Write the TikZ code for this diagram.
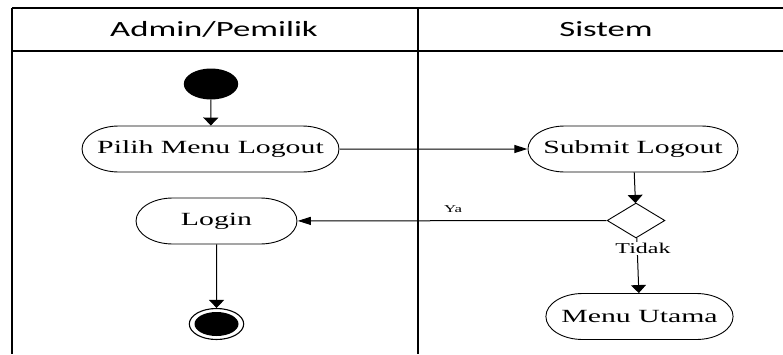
\documentclass[tikz,border=0pt]{standalone}
\usepackage{fontspec}
\setmainfont{Liberation Serif}
\newfontfamily\lanefont{Carlito}
\usetikzlibrary{shapes.misc,shapes.geometric,arrows.meta}

\tikzset{
  laneh/.style={line width=1.3pt},
  lanev/.style={line width=2pt},
  lanetitle/.style={anchor=base, inner sep=0pt, font=\lanefont\fontsize{21.7}{26}\selectfont},
  activity/.style={rounded rectangle, draw, line width=0.9pt, inner sep=0pt,
    minimum height=46pt, font=\fontsize{18.6}{22}\selectfont},
  decision/.style={diamond, draw, line width=0.9pt, inner sep=0pt,
    minimum width=36.25pt, minimum height=35pt},
  initial/.style={ellipse, fill=black, inner sep=0pt, minimum width=34pt, minimum height=31pt},
  finalring/.style={ellipse, draw, line width=1.1pt, inner sep=0pt, minimum width=34pt, minimum height=31pt},
  finaldot/.style={ellipse, fill=black, inner sep=0pt, minimum width=27.5pt, minimum height=24pt},
  vflow/.style={line width=1pt, -{Triangle[length=8pt,width=15pt]}},
  hflow/.style={line width=1pt, -{Triangle[length=13pt,width=8pt]}},
  guard/.style={inner sep=1pt}
}

\begin{document}
\begin{tikzpicture}[x=0.625pt, y=-1pt, xscale=1.6, transform shape]
  \useasboundingbox (0,0) rectangle (783,354);

  % swimlane frame
  \coordinate (tl) at (12,8);
  \coordinate (tr) at (783,8);
  \coordinate (hl) at (12,51);
  \coordinate (hr) at (783,51);
  \coordinate (bl) at (12,354);
  \coordinate (dt) at (418,8);
  \coordinate (db) at (418,354);
  \draw[laneh] (tl) -- (tr);
  \draw[laneh] (hl) -- (hr);
  \draw[lanev] (tl) -- (bl);
  \draw[lanev] (dt) -- (db);

  \node[lanetitle] (laneA) at (214,36) {Admin/Pemilik};
  \node[lanetitle] (laneB) at (606,36) {Sistem};

  % activities
  \node[initial] (start) at (211,84) {};
  \node[activity, minimum width=160.6pt] (pilih) at (210.5,149) {Pilih Menu Logout};
  \node[activity, minimum width=131.3pt] (submit) at (633,149) {Submit Logout};
  \node[decision] (dia) at (636,220.5) {};
  \node[activity, minimum width=100.6pt] (login) at (216.5,221) {Login};
  \node[activity, minimum width=117pt] (menu) at (639.5,316.5) {Menu Utama};
  \node[finalring] (end) at (216.5,324) {};
  \node[finaldot] (endin) at (216.5,324) {};

  % control flow
  \draw[vflow] (start) -- (pilih);
  \draw[hflow] (pilih) -- (submit);
  \draw[vflow] (submit) -- (dia);
  \draw[hflow] (dia) -- (login);
  \draw[vflow] (dia) -- (menu);
  \draw[vflow] (login) -- (end);

  % guards
  \node[guard, font=\fontsize{10.5}{12}\selectfont] (ya) at (453,209.5) {Ya};
  \node[guard, fill=white, font=\fontsize{15}{18}\selectfont] (tidak) at (643,248.5) {Tidak};
\end{tikzpicture}
\end{document}
